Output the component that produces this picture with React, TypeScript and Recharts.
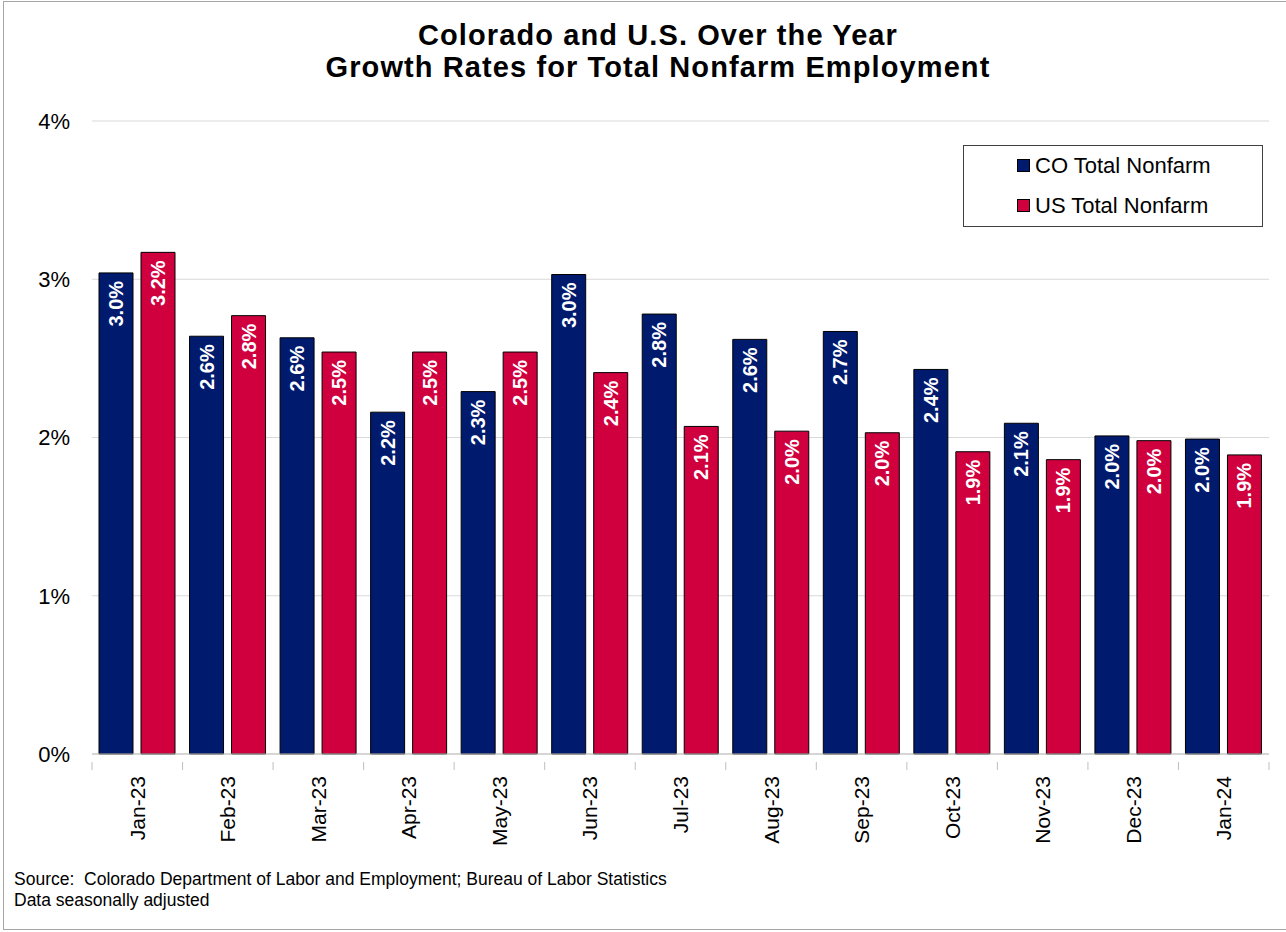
import React from "react";
import { BarChart, Bar, XAxis, YAxis, CartesianGrid, LabelList } from "recharts";

const categories = ["Jan-23","Feb-23","Mar-23","Apr-23","May-23","Jun-23","Jul-23","Aug-23","Sep-23","Oct-23","Nov-23","Dec-23","Jan-24"];
const coValues = [3.04, 2.64, 2.63, 2.16, 2.29, 3.03, 2.78, 2.62, 2.67, 2.43, 2.09, 2.01, 1.99];
const usValues = [3.17, 2.77, 2.54, 2.54, 2.54, 2.41, 2.07, 2.04, 2.03, 1.91, 1.86, 1.98, 1.89];
const yTicks = [0, 1, 2, 3, 4];
const seriesNames = ["CO Total Nonfarm", "US Total Nonfarm"];
const titleLines = ["Colorado and U.S. Over the Year", "Growth Rates for Total Nonfarm Employment"];
const sourceLines = ["Source:  Colorado Department of Labor and Employment; Bureau of Labor Statistics", "Data seasonally adjusted"];

const CO_COLOR = "#001a6e";
const US_COLOR = "#d0003f";
const FONT = "'Liberation Sans', Arial, sans-serif";

const data = categories.map((c, i) => ({ month: c, co: coValues[i], us: usValues[i] }));

const W = 1286;
const H = 932;
const PLOT_LEFT = 92;
const PLOT_RIGHT = 1269;
const BW = (PLOT_RIGHT - PLOT_LEFT) / categories.length;

const BarLabel = (props: any) => {
  const { x, y, width, value } = props;
  const cx = x + width / 2;
  const ty = y + 8;
  return (
    <text
      x={cx}
      y={ty}
      transform={`rotate(-90 ${cx} ${ty})`}
      textAnchor="end"
      dominantBaseline="central"
      fill="#ffffff"
      fontWeight="bold"
      fontSize={20}
      fontFamily={FONT}
    >
      {`${Number(value).toFixed(1)}%`}
    </text>
  );
};

const XTick = (props: any) => {
  const { x, y, payload, index } = props;
  const left = x - BW / 2;
  const right = x + BW / 2;
  return (
    <g>
      <line x1={left} y1={y} x2={left} y2={y + 8} stroke="#bfbfbf" strokeWidth={1} />
      {index === categories.length - 1 && (
        <line x1={right} y1={y} x2={right} y2={y + 8} stroke="#bfbfbf" strokeWidth={1} />
      )}
      <text
        x={x}
        y={y + 14}
        transform={`rotate(-90 ${x} ${y + 14})`}
        textAnchor="end"
        dominantBaseline="central"
        fill="#000"
        fontSize={21}
        fontFamily={FONT}
      >
        {payload.value}
      </text>
    </g>
  );
};

const legendItems = [
  { name: seriesNames[0], color: CO_COLOR },
  { name: seriesNames[1], color: US_COLOR },
];

export default function App() {
  return (
    <div style={{ position: "absolute", left: 0, top: 0, width: W, height: H, background: "#fff", overflow: "hidden" }}>
      <div
        style={{
          position: "absolute",
          left: 3,
          top: 1,
          width: W + 10,
          height: 929,
          borderTop: "1px solid #a6a6a6",
          borderLeft: "1px solid #a6a6a6",
          borderBottom: "1px solid #a6a6a6",
          boxSizing: "border-box",
        }}
      />
      <div
        style={{
          position: "absolute",
          left: 0,
          top: 19,
          width: 1316,
          textAlign: "center",
          fontFamily: FONT,
          fontWeight: "bold",
          fontSize: 29,
          letterSpacing: "1.1px",
          lineHeight: "32px",
          color: "#000",
        }}
      >
        {titleLines.map((t) => (
          <div key={t}>{t}</div>
        ))}
      </div>
      <div style={{ position: "absolute", left: 0, top: 0 }}>
        <BarChart
          width={W}
          height={H}
          data={data}
          margin={{ top: 121, right: W - PLOT_RIGHT, bottom: 168, left: 12 }}
          barCategoryGap={7}
          barGap={8}
        >
          <CartesianGrid vertical={false} stroke="#d9d9d9" strokeWidth={1} />
          <XAxis
            dataKey="month"
            axisLine={{ stroke: "#bfbfbf" }}
            tickLine={false}
            tick={<XTick />}
            interval={0}
            height={10}
          />
          <YAxis
            width={80}
            domain={[0, 4]}
            ticks={yTicks}
            axisLine={false}
            tickLine={false}
            tickSize={0}
            tickMargin={22}
            tickFormatter={(v: number) => `${v}%`}
            tick={{ fontSize: 22, fill: "#000", fontFamily: FONT }}
          />
          <Bar dataKey="co" name={seriesNames[0]} fill={CO_COLOR} stroke="#000" strokeWidth={1} isAnimationActive={false}>
            <LabelList dataKey="co" content={<BarLabel />} />
          </Bar>
          <Bar dataKey="us" name={seriesNames[1]} fill={US_COLOR} stroke="#000" strokeWidth={1} isAnimationActive={false}>
            <LabelList dataKey="us" content={<BarLabel />} />
          </Bar>
        </BarChart>
      </div>
      <div
        style={{
          position: "absolute",
          left: 963,
          top: 145,
          border: "1px solid #404040",
          width: 300,
          height: 82,
          boxSizing: "border-box",
          paddingTop: 3,
          paddingLeft: 53,
          fontFamily: FONT,
          fontSize: 22,
          background: "#fff",
        }}
      >
        {legendItems.map((p) => (
          <div key={p.name} style={{ display: "flex", alignItems: "center", height: 33, marginBottom: 7 }}>
            <span
              style={{
                display: "inline-block",
                width: 11,
                height: 11,
                background: p.color,
                border: "1px solid #000",
                marginRight: 5,
              }}
            />
            <span style={{ color: "#000" }}>{p.name}</span>
          </div>
        ))}
      </div>
      <div
        style={{
          position: "absolute",
          left: 14,
          top: 869,
          fontFamily: FONT,
          fontSize: 17.5,
          lineHeight: "21px",
          color: "#000",
        }}
      >
        {sourceLines.map((t) => (
          <div key={t} style={{ whiteSpace: "pre" }}>{t}</div>
        ))}
      </div>
    </div>
  );
}
